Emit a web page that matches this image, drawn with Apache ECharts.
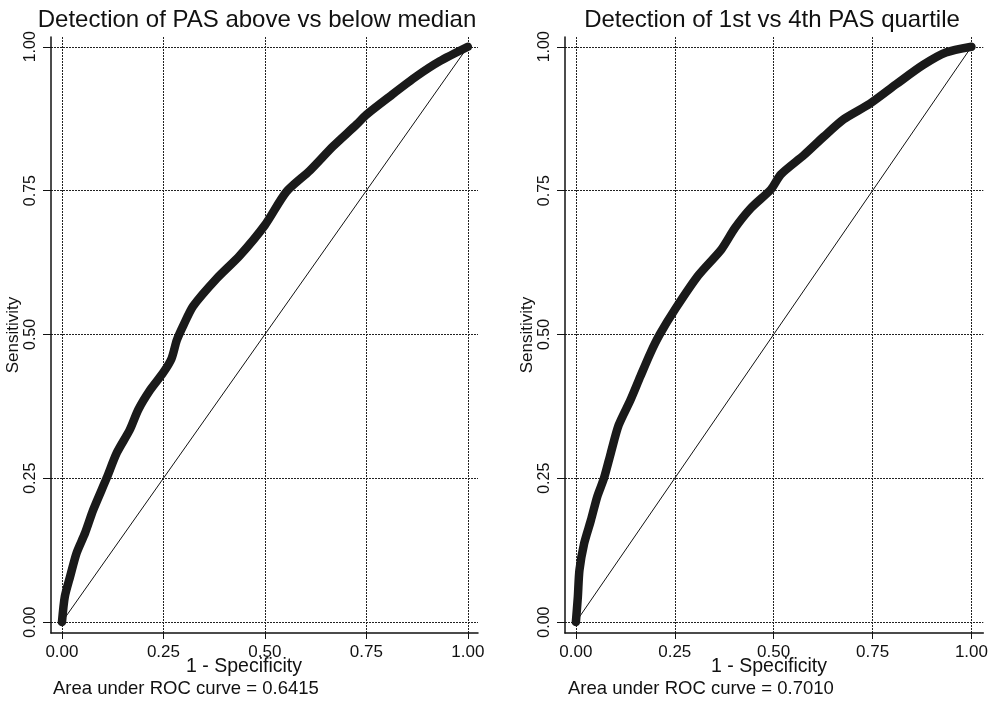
<!DOCTYPE html>
<html>
<head>
<meta charset="utf-8">
<script src="https://cdn.jsdelivr.net/npm/echarts@6/dist/echarts.min.js"></script>
<style>html,body{margin:0;padding:0;background:#fff;}#c{width:991px;height:705px;}</style>
</head>
<body>
<div id="c"></div>
<script>
// ---- data ----
const tickValues = [0, 0.25, 0.5, 0.75, 1];
const titles = ['Detection of PAS above vs below median', 'Detection of 1st vs 4th PAS quartile'];
const aucTexts = ['Area under ROC curve = 0.6415', 'Area under ROC curve = 0.7010'];
const xName = '1 - Specificity';
const yName = 'Sensitivity';

const leftFpr = [0, 0.007, 0.02, 0.036, 0.057, 0.077, 0.11, 0.135, 0.167, 0.188, 0.217, 0.249, 0.27, 0.283, 0.3, 0.323, 0.381, 0.438, 0.5, 0.553, 0.611, 0.668, 0.726, 0.75, 0.808, 0.874, 0.931, 1];
const leftTpr = [0, 0.044, 0.079, 0.12, 0.155, 0.195, 0.25, 0.294, 0.334, 0.369, 0.403, 0.433, 0.458, 0.49, 0.517, 0.549, 0.597, 0.637, 0.69, 0.748, 0.785, 0.827, 0.865, 0.882, 0.914, 0.949, 0.975, 1];

const rightFpr = [0, 0.005, 0.009, 0.021, 0.038, 0.054, 0.071, 0.088, 0.108, 0.138, 0.163, 0.188, 0.212, 0.252, 0.31, 0.368, 0.402, 0.443, 0.493, 0.518, 0.577, 0.627, 0.677, 0.743, 0.81, 0.877, 0.935, 1];
const rightTpr = [0, 0.044, 0.09, 0.137, 0.177, 0.218, 0.25, 0.293, 0.342, 0.386, 0.427, 0.467, 0.5, 0.545, 0.603, 0.648, 0.685, 0.72, 0.752, 0.778, 0.812, 0.844, 0.874, 0.901, 0.935, 0.968, 0.99, 1];

const diagX = [0, 1];
const diagY = [0, 1];

// ---- build ----
const FONT = '"Liberation Sans", Arial, sans-serif';
const zip = (a, b) => a.map((v, i) => [v, b[i]]);

function xAxisFor(gi, min, max) {
  return {
    type: 'value', gridIndex: gi, min: min, max: max,
    axisLine: { show: true, onZero: false, lineStyle: { color: '#111', width: 1.5 } },
    axisTick: { show: true, customValues: tickValues, length: 6, lineStyle: { color: '#111' } },
    axisLabel: { customValues: tickValues, formatter: v => v.toFixed(2), color: '#111',
      fontSize: 17, fontFamily: FONT, margin: 11 },
    splitLine: { show: true, lineStyle: { color: '#222', width: 1, type: [2, 1] } }
  };
}
function yAxisFor(gi, min, max) {
  return {
    type: 'value', gridIndex: gi, min: min, max: max,
    name: yName, nameLocation: 'middle', nameRotate: 90, nameGap: 20,
    nameTextStyle: { color: '#111', fontSize: 17, fontFamily: FONT },
    axisLine: { show: true, onZero: false, lineStyle: { color: '#111', width: 1.5 } },
    axisTick: { show: true, customValues: tickValues, length: 8, lineStyle: { color: '#111' } },
    axisLabel: { customValues: tickValues, formatter: v => v.toFixed(2), color: '#111',
      fontSize: 16, fontFamily: FONT, rotate: 90, margin: 12 },
    splitLine: { show: true, lineStyle: { color: '#222', width: 1, type: [2, 1] } }
  };
}

function curve(gi, data) {
  return { type: 'line', xAxisIndex: gi, yAxisIndex: gi, data: data, showSymbol: false,
    symbol: 'none', clip: false, silent: true, animation: false, smooth: 0.25,
    lineStyle: { color: '#1a1a1a', width: 8.5, cap: 'round', join: 'round' }, z: 3 };
}
function diag(gi) {
  return { type: 'line', xAxisIndex: gi, yAxisIndex: gi, data: zip(diagX, diagY), showSymbol: false,
    symbol: 'none', silent: true, animation: false,
    lineStyle: { color: '#111', width: 1 }, z: 2 };
}

function text(x, y, str, size, align) {
  return { type: 'text', x: x, y: y, silent: true,
    style: { text: str, fill: '#111', font: size + 'px ' + FONT, align: align || 'center', verticalAlign: 'middle' } };
}

const chart = echarts.init(document.getElementById('c'), null, { renderer: 'canvas' });
chart.setOption({
  backgroundColor: '#fff',
  animation: false,
  grid: [
    { left: 51, top: 37, width: 427, height: 596 },
    { left: 565, top: 37, width: 423, height: 596 }
  ],
  xAxis: [xAxisFor(0, -0.027, 1.025), xAxisFor(1, -0.0275, 1.03)],
  yAxis: [yAxisFor(0, -0.019, 1.017), yAxisFor(1, -0.019, 1.017)],
  series: [
    diag(0), curve(0, zip(leftFpr, leftTpr)),
    diag(1), curve(1, zip(rightFpr, rightTpr))
  ],
  graphic: [
    text(257, 20, titles[0], 24),
    text(772, 20, titles[1], 24),
    text(244, 667, xName, 19.5),
    text(769, 667, xName, 19.5),
    text(53, 689, aucTexts[0], 18.5, 'left'),
    text(568, 689, aucTexts[1], 18.5, 'left')
  ]
});
</script>
</body>
</html>
